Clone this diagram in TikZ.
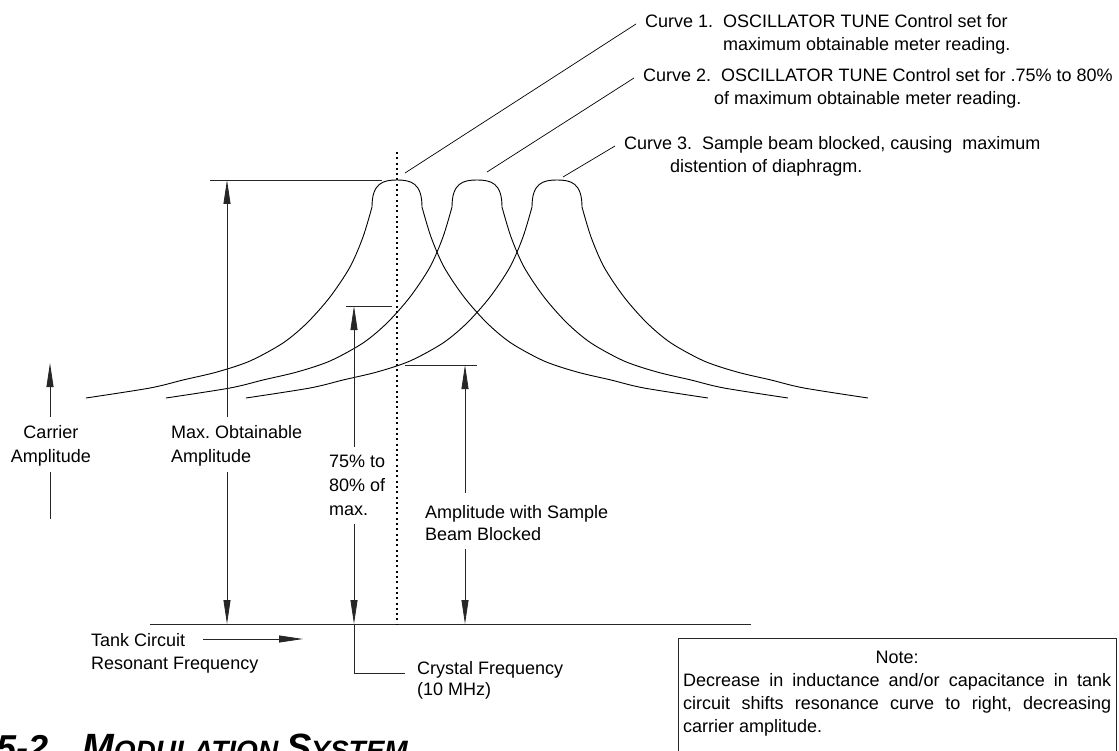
\documentclass[tikz,border=0pt]{standalone}
\usepackage{fontspec}
\setmainfont{Liberation Sans}
\usetikzlibrary{arrows.meta, positioning, calc}
\frenchspacing

\tikzset{
	lbl/.style={inner sep=0pt, align=left, font=\fontsize{18}{24}\selectfont},
	dimline/.style={line width=0.8pt, draw=black!85},
	uptip/.style={-{Triangle[length=24pt, width=7pt]}},
	rescurve/.style={line width=0.9pt},
	leader/.style={line width=0.7pt},
}

\begin{document}
\begin{tikzpicture}[x=1pt, y=-1pt]
	\clip (0,0) rectangle (1119,751);
	% resonance curves, shifted to the right
	\foreach \px in {397, 477, 557}{
		\draw[rescurve, shift={(\px,180)}] plot[smooth] coordinates {(-311,218) (-247,208) (-214,200) (-180,192) (-147,181) (-114,163) (-90,143) (-67,117) (-47,87) (-34,57) (-25,27)}
			.. controls (-25,3) and (-14,0) .. (0,0) .. controls (14,0) and (25,3) .. (25,27)
			-- plot[smooth] coordinates {(25,27) (34,57) (47,87) (67,117) (90,143) (114,163) (147,181) (180,192) (214,200) (247,208) (311,218)};
	}
	\coordinate (basel) at (150,624);
	\coordinate (baser) at (751,624);
	\draw[dimline] (basel) -- (baser);
	\coordinate (xtal) at (397,152);
	\draw[line width=1.8pt, dash pattern=on 2pt off 3.3pt] (xtal) -- (xtal |- basel);

	% carrier amplitude
	\coordinate (cartop) at (50,363);
	\node[lbl, align=center, anchor=north] (carlbl) at (51,425) {Carrier\\Amplitude};
	\draw[dimline, uptip, shorten <=8pt] (carlbl.north -| cartop) -- (cartop);
	\draw[dimline, shorten <=6pt] (carlbl.south -| cartop) -- ++(0,53);

	% max. obtainable
	\coordinate (maxtop) at (227,180);
	\draw[dimline] ($(maxtop)+(-17,0)$) -- ($(maxtop)+(155,0)$);
	\node[lbl, anchor=north west] (maxlbl) at (171,425) {Max. Obtainable\\Amplitude};
	\draw[dimline, uptip, shorten <=8pt] (maxlbl.north -| maxtop) -- (maxtop);
	\draw[dimline, uptip, shorten <=6pt] (maxlbl.south -| maxtop) -- (maxtop |- basel);

	% 75% to 80%
	\coordinate (pcttop) at (354,306);
	\draw[dimline] ($(pcttop)+(-8,0)$) -- ($(pcttop)+(38,0)$);
	\node[lbl, anchor=north west] (pctlbl) at (329,455) {75\% to\\80\% of\\max.};
	\draw[dimline, uptip, shorten <=8pt] (pctlbl.north -| pcttop) -- (pcttop);
	\draw[dimline, uptip, shorten <=8pt] (pctlbl.south -| pcttop) -- (pcttop |- basel);
	\node[lbl, anchor=north west, font=\fontsize{18}{21}\selectfont] (xtallbl) at (417,661) {Crystal Frequency\\(10 MHz)};
	\draw[dimline] (pcttop |- basel) -- ++(0,49) -- ++(51,0);

	% sample beam blocked
	\coordinate (samptop) at (465,365);
	\draw[dimline] ($(samptop)+(-60,0)$) -- ($(samptop)+(12,0)$);
	\node[lbl, anchor=north west, font=\fontsize{18}{22}\selectfont] (samplbl) at (425,505) {Amplitude with Sample\\Beam Blocked};
	\draw[dimline, uptip, shorten <=12pt] (samplbl.north -| samptop) -- (samptop);
	\draw[dimline, uptip, shorten <=8pt] (samplbl.south -| samptop) -- (samptop |- basel);

	% frequency axis
	\node[lbl, anchor=north west, font=\fontsize{18}{23}\selectfont] (tanklbl) at (91,633) {Tank Circuit\\Resonant Frequency};
	\coordinate (tankfrom) at (203,639);
	\coordinate (tankto) at (303,639);
	\draw[dimline, uptip] (tankfrom) -- (tankto);

	% note
	\node[anchor=north west, inner xsep=5pt, inner ysep=13pt, text width=428pt, align=justify, font=\fontsize{18}{23}\selectfont] (note) at (678,638) {\hyphenpenalty=10000 \exhyphenpenalty=10000 \tolerance=10000 \hspace*{\fill}Note:\hspace*{\fill}\par Decrease in inductance and/or capacitance in tank circuit shifts resonance curve to right, decreasing carrier amplitude.\par};
	\draw[dimline] (note.north west) rectangle ($(note.south east)+(0,15)$);

	% curve labels
	\node[lbl, anchor=north west, font=\fontsize{18}{23.5}\selectfont] (c1lbl) at (645,14) {Curve 1.\ \ OSCILLATOR TUNE Control set for\\\hspace*{78pt}maximum obtainable meter reading.};
	\node[lbl, anchor=north west, font=\fontsize{18}{23.5}\selectfont] (c2lbl) at (643,68) {Curve 2.\ \ OSCILLATOR TUNE Control set for .75\% to 80\%\\\hspace*{71pt}of maximum obtainable meter reading.};
	\node[lbl, anchor=north west, font=\fontsize{18}{23.5}\selectfont] (c3lbl) at (624,136) {Curve 3.\ \ Sample beam blocked, causing\ \ maximum\\\hspace*{46pt}distention of diaphragm.};
	\coordinate (pk1) at (405,173);
	\coordinate (pk2) at (487,172);
	\coordinate (pk3) at (563,177);
	\foreach \i in {1,2,3}{
		\draw[leader] (pk\i) -- ($(c\i lbl.north west)+(-9,10)$);
	}

	% section heading, cut off at the bottom
	\node[anchor=base west, inner sep=0pt, font=\bfseries\itshape] (title) at (-4,760) {\fontsize{36}{36}\selectfont 5-2\hspace{34pt}\fontsize{38}{38}\selectfont M\fontsize{28}{28}\selectfont ODULATION \fontsize{38}{38}\selectfont S\fontsize{28}{28}\selectfont YSTEM};
\end{tikzpicture}
\end{document}
